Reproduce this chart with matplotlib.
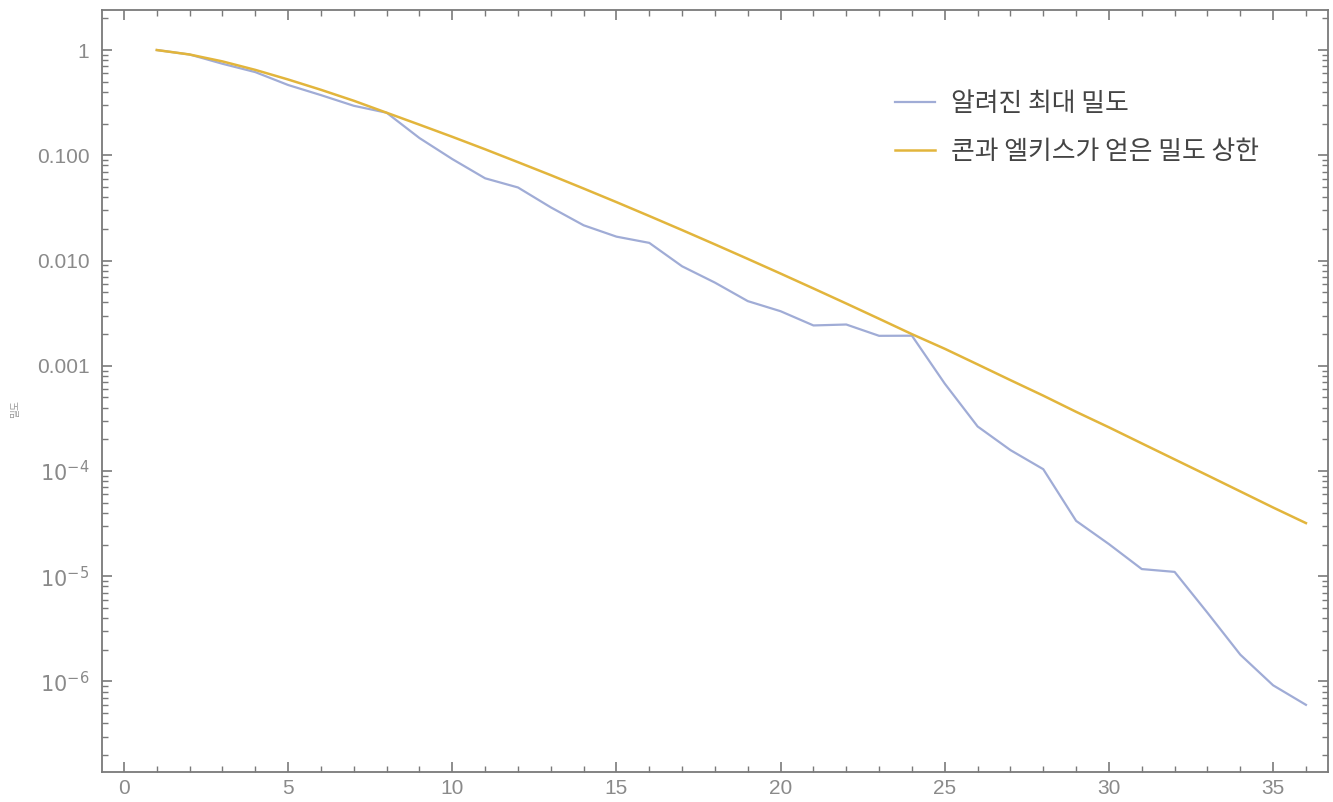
#Sphere packing density vs dimension (log scale)

import numpy as np
import matplotlib as mpl
import matplotlib.pyplot as plt
from matplotlib.ticker import MultipleLocator, LogLocator, NullFormatter

mpl.rcParams['font.family'] = ['Noto Sans CJK KR', 'DejaVu Sans']

#data
dims = list(range(1, 37))
known = [1.0, 0.9069, 0.7405, 0.6169, 0.4653, 0.3729, 0.2953, 0.2537,
         0.1458, 0.09202, 0.06043, 0.04945, 0.03201, 0.02162, 0.01686, 0.01471,
         0.008811, 0.006165, 0.004114, 0.003297, 0.002416, 0.002466, 0.001925, 0.001930,
         0.000676, 0.000265, 0.000158, 0.000104, 3.36e-5, 2.02e-5, 1.17e-5, 1.10e-5,
         4.5e-6, 1.8e-6, 9.2e-7, 6.0e-7]
bound = [1.0, 0.9069, 0.7799, 0.6477, 0.5249, 0.4190, 0.3297, 0.2537,
         0.1953, 0.1498, 0.1140, 0.08602, 0.06474, 0.04831, 0.03588, 0.02648,
         0.01946, 0.01423, 0.01036, 0.007513, 0.005425, 0.003903, 0.002796, 0.001996,
         0.00145, 0.00103, 0.00073, 0.00052, 0.000365, 0.00026, 0.000183, 0.000129,
         9.1e-5, 6.4e-5, 4.5e-5, 3.2e-5]

labels = ['알려진 최대 밀도', '콘과 엘키스가 얻은 밀도 상한']
ytick_vals = [1, 0.1, 0.01, 0.001, 1e-4, 1e-5, 1e-6]
ytick_labels = ['1', '0.100', '0.010', '0.001', '$10^{-4}$', '$10^{-5}$', '$10^{-6}$']

gray = '#7a7a7a'

fig = plt.figure(figsize=(13.33, 8.02), dpi=100)
ax = fig.add_axes([0.0765, 0.0374, 0.9197, 0.9501])

ax.plot(dims, known, color='#a0acd6', lw=1.6, label=labels[0])
ax.plot(dims, bound, color='#e2b53c', lw=1.8, label=labels[1])

ax.set_yscale('log')
ax.set_xlim(-0.67, 36.67)
ax.set_ylim(1.38e-7, 2.4)

ax.xaxis.set_major_locator(MultipleLocator(5))
ax.xaxis.set_minor_locator(MultipleLocator(1))
ax.set_yticks(ytick_vals, ytick_labels)
ax.yaxis.set_minor_locator(LogLocator(base=10, subs=np.arange(2, 10)))
ax.yaxis.set_minor_formatter(NullFormatter())

ax.tick_params(which='both', direction='in', color=gray, labelcolor='#8a8a8a',
               labelsize=15, top=True, right=True)
ax.tick_params(which='major', length=7, width=1.2)
ax.tick_params(which='minor', length=4, width=1.0)
ax.tick_params(axis='x', pad=5)
ax.tick_params(axis='y', pad=9)
for tl in ax.get_xticklabels() + ax.get_yticklabels():
    tl.set_family(['Liberation Sans', 'DejaVu Sans'])
for sp in ax.spines.values():
    sp.set_color(gray)
    sp.set_linewidth(1.3)

fig.text(0.011, 0.49, '밀도', rotation=90, fontsize=7, color='#999999',
         va='center', ha='center')

ax.legend(loc='upper left', bbox_to_anchor=(0.647, 0.895), frameon=False,
          fontsize=18.6, handlelength=1.55, handletextpad=0.6, labelspacing=0.8,
          borderpad=0, borderaxespad=0, labelcolor='#444444')

fig.savefig('out.png', dpi=100)
